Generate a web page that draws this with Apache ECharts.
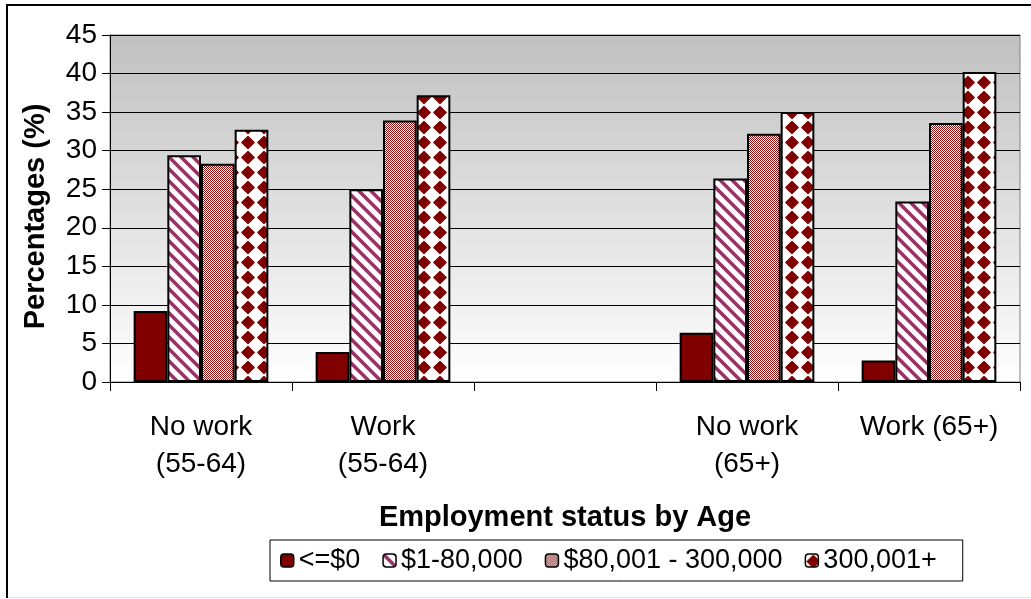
<!DOCTYPE html>
<html>
<head>
<meta charset="utf-8">
<script src="https://cdn.jsdelivr.net/npm/echarts@6/dist/echarts.min.js"></script>
<style>
  html, body { margin: 0; padding: 0; background: #ffffff; }
  #chart { width: 1031px; height: 599px; }
</style>
</head>
<body>
<div id="chart"></div>
<script>
// Share of households by net-worth band, per employment status and age group
const categories = ['No work\n(55-64)', 'Work\n(55-64)', '', 'No work\n(65+)', 'Work (65+)'];
const seriesNames = ['<=$0', '$1-80,000', '$80,001 - 300,000', '300,001+'];
const valuesNegative = [9.2, 3.9, null, 6.4, 2.8];
const valuesLow = [29.4, 25.0, null, 26.4, 23.4];
const valuesMid = [28.3, 33.9, null, 32.2, 33.6];
const valuesHigh = [32.7, 37.2, null, 35.0, 40.2];
const yTicks = { min: 0, max: 45, interval: 5 };

const FONT = "'Liberation Sans', Arial, sans-serif";
const DARK_RED = '#800000';

// Fill patterns drawn on small tiles
function makeTile(w, h, draw) {
  const c = document.createElement('canvas');
  c.width = w; c.height = h;
  const ctx = c.getContext('2d');
  draw(ctx, w, h);
  return c;
}

// diagonal "\" stripes
const stripeTile = makeTile(12, 12, function (ctx, w, h) {
  ctx.fillStyle = '#ffffff';
  ctx.fillRect(0, 0, w, h);
  ctx.strokeStyle = '#993366';
  ctx.lineWidth = 3.5;
  for (let k = -2; k <= 2; k++) {
    ctx.beginPath();
    ctx.moveTo(k * w - 2, -2);
    ctx.lineTo(k * w + w + 2, h + 2);
    ctx.stroke();
  }
});

// fine checkerboard
const checkerTile = makeTile(2, 2, function (ctx) {
  ctx.fillStyle = '#ffffff';
  ctx.fillRect(0, 0, 2, 2);
  ctx.fillStyle = '#8c1010';
  ctx.fillRect(0, 0, 1, 1);
  ctx.fillRect(1, 1, 1, 1);
});

// solid diamonds on white
const diamondTile = makeTile(16, 15, function (ctx, w, h) {
  ctx.fillStyle = '#ffffff';
  ctx.fillRect(0, 0, w, h);
  ctx.fillStyle = DARK_RED;
  ctx.strokeStyle = DARK_RED;
  ctx.lineWidth = 1.2;
  ctx.lineJoin = 'round';
  const cx = w / 2, cy = h / 2, r = 6.2;
  ctx.beginPath();
  ctx.moveTo(cx, cy - r);
  ctx.lineTo(cx + r, cy);
  ctx.lineTo(cx, cy + r);
  ctx.lineTo(cx - r, cy);
  ctx.closePath();
  ctx.fill();
  ctx.stroke();
});

const fills = [
  DARK_RED,
  { image: stripeTile, repeat: 'repeat' },
  { image: checkerTile, repeat: 'repeat' },
  { image: diamondTile, repeat: 'repeat' }
];
const seriesValues = [valuesNegative, valuesLow, valuesMid, valuesHigh];

const chart = echarts.init(document.getElementById('chart'), null, { renderer: 'canvas' });

chart.setOption({
  animation: false,
  backgroundColor: '#ffffff',
  textStyle: { fontFamily: FONT, color: '#000000' },
  grid: {
    left: 110, right: 11, top: 35, bottom: 217,
    show: true,
    borderColor: '#808080',
    borderWidth: 1,
    backgroundColor: {
      type: 'linear', x: 0, y: 0, x2: 0, y2: 1,
      colorStops: [
        { offset: 0, color: '#c0c0c0' },
        { offset: 1, color: '#ffffff' }
      ]
    }
  },
  legend: {
    data: seriesNames,
    left: 270,
    top: 540,
    orient: 'horizontal',
    itemWidth: 13,
    itemHeight: 13,
    itemGap: 22,
    padding: [7, 26, 7, 10],
    borderColor: '#000000',
    borderWidth: 1,
    backgroundColor: '#ffffff',
    textStyle: { fontFamily: FONT, fontSize: 27, color: '#000000' },
    itemStyle: { borderColor: '#000000', borderWidth: 1.5 }
  },
  xAxis: {
    type: 'category',
    data: categories,
    boundaryGap: true,
    name: 'Employment status by Age',
    nameLocation: 'middle',
    nameGap: 121,
    nameTextStyle: { fontFamily: FONT, fontSize: 29, fontWeight: 'bold', color: '#000000' },
    axisLine: { lineStyle: { color: '#000000', width: 1 } },
    axisTick: { show: true, length: 9, inside: false, lineStyle: { color: '#000000' } },
    axisLabel: {
      interval: 0,
      margin: 27,
      fontSize: 28,
      lineHeight: 37,
      color: '#000000',
      fontFamily: FONT
    },
    splitLine: { show: false }
  },
  yAxis: {
    type: 'value',
    min: yTicks.min,
    max: yTicks.max,
    interval: yTicks.interval,
    name: 'Percentages (%)',
    nameLocation: 'middle',
    nameGap: 60,
    nameTextStyle: { fontFamily: FONT, fontSize: 29, fontWeight: 'bold', color: '#000000', padding: [0, 16, 0, 0] },
    axisLine: { show: true, lineStyle: { color: '#000000', width: 1 } },
    axisTick: { show: true, length: 8, inside: false, lineStyle: { color: '#000000' } },
    axisLabel: { margin: 13, fontSize: 28, color: '#000000', fontFamily: FONT },
    splitLine: { show: true, lineStyle: { color: '#000000', width: 1 } }
  },
  series: seriesNames.map(function (name, i) {
    return {
      name: name,
      type: 'bar',
      data: seriesValues[i],
      barGap: '0%',
      barCategoryGap: '26%',
      itemStyle: {
        color: fills[i],
        borderColor: '#000000',
        borderWidth: 2
      },
      emphasis: { disabled: true }
    };
  }),
  graphic: [
    { type: 'line', shape: { x1: 7, y1: 4, x2: 7, y2: 598 }, style: { stroke: '#000000', lineWidth: 2 }, silent: true },
    { type: 'line', shape: { x1: 6, y1: 5, x2: 1031, y2: 5 }, style: { stroke: '#000000', lineWidth: 2 }, silent: true },
    { type: 'line', shape: { x1: 8, y1: 597.5, x2: 1031, y2: 597.5 }, style: { stroke: '#e6e6e6', lineWidth: 1 }, silent: true }
  ]
});
</script>
</body>
</html>
